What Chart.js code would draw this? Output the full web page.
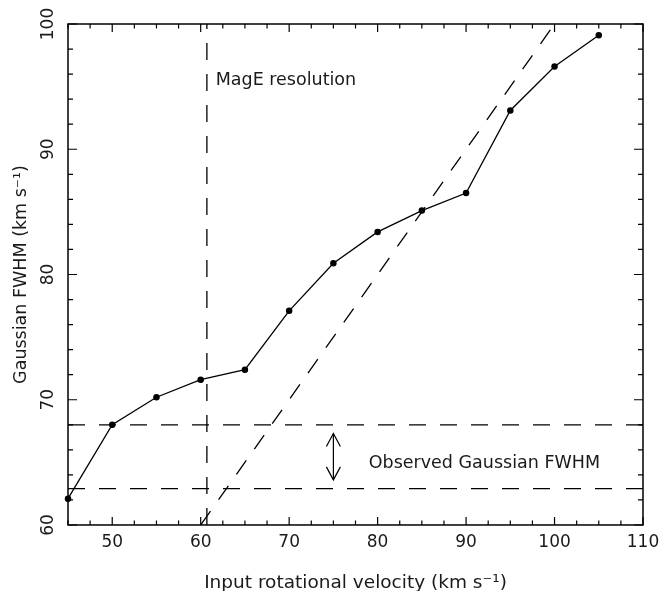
<!DOCTYPE html>
<html>
<head>
<meta charset="utf-8">
<script src="https://cdn.jsdelivr.net/npm/chart.js@4.4.0/dist/chart.umd.min.js"></script>
<style>
  body { margin: 0; background: #fff; }
  canvas { display: block; }
</style>
</head>
<body>
<canvas id="chart" width="662" height="591"></canvas>
<script>
// measured curve
const velocity = [45, 50, 55, 60, 65, 70, 75, 80, 85, 90, 95, 100, 105];
const fwhm = [62.1, 68.0, 70.2, 71.6, 72.4, 77.1, 80.9, 83.4, 85.1, 86.5, 93.1, 96.6, 99.1];

// reference lines
const oneToOneX = [60, 100];
const oneToOneY = [60, 100];
const resolutionX = [60.7, 60.7];
const resolutionY = [60, 100];
const observedX = [45, 110];
const observedUpper = [68, 68];
const observedLower = [62.9, 62.9];
const arrowX = [75, 75];
const arrowY = [63.6, 67.3];

// axes
const xTicks = [50, 60, 70, 80, 90, 100, 110];
const yTicks = [60, 70, 80, 90, 100];
const xMinorStep = 2.5;
const yMinorStep = 2;

const zip = (xs, ys) => xs.map((x, i) => ({ x: x, y: ys[i] }));
const FONT = "'DejaVu Sans', sans-serif";
const INK = '#1a1a1a';

const dashed = (xs, ys) => ({
    data: zip(xs, ys),
    borderColor: '#000',
    borderWidth: 1.3,
    borderDash: [17, 14],
    pointRadius: 0,
    showLine: true
});

const framePlugin = {
    id: 'frame',
    afterDatasetsDraw(chart) {
        const ctx = chart.ctx;
        const a = chart.chartArea;
        const xs = chart.scales.x, ys = chart.scales.y;
        ctx.save();
        ctx.strokeStyle = '#000';
        ctx.lineWidth = 1.5;
        ctx.strokeRect(a.left, a.top, a.right - a.left, a.bottom - a.top);

        // inward ticks on all four sides
        ctx.lineWidth = 1.2;
        ctx.beginPath();
        for (let v = xs.min; v <= xs.max + 1e-9; v += xMinorStep) {
            const px = xs.getPixelForValue(v);
            const len = v % 10 === 0 ? 8 : 4.5;
            ctx.moveTo(px, a.bottom); ctx.lineTo(px, a.bottom - len);
            ctx.moveTo(px, a.top); ctx.lineTo(px, a.top + len);
        }
        for (let v = ys.min; v <= ys.max + 1e-9; v += yMinorStep) {
            const py = ys.getPixelForValue(v);
            const len = v % 10 === 0 ? 9 : 5;
            ctx.moveTo(a.left, py); ctx.lineTo(a.left + len, py);
            ctx.moveTo(a.right, py); ctx.lineTo(a.right - len, py);
        }
        ctx.stroke();

        // rotated y tick labels
        ctx.fillStyle = INK;
        ctx.font = '17px ' + FONT;
        ctx.textAlign = 'center';
        ctx.textBaseline = 'middle';
        yTicks.forEach(v => {
            ctx.save();
            ctx.translate(a.left - 19, ys.getPixelForValue(v));
            ctx.rotate(-Math.PI / 2);
            ctx.fillText(String(v), 0, 0);
            ctx.restore();
        });

        // arrow heads on the observed-range marker
        ctx.lineWidth = 1.2;
        ctx.beginPath();
        const ax = xs.getPixelForValue(arrowX[0]);
        const top = ys.getPixelForValue(arrowY[1]);
        const bot = ys.getPixelForValue(arrowY[0]);
        ctx.moveTo(ax - 7, top + 13); ctx.lineTo(ax, top); ctx.lineTo(ax + 7, top + 13);
        ctx.moveTo(ax - 7, bot - 13); ctx.lineTo(ax, bot); ctx.lineTo(ax + 7, bot - 13);
        ctx.stroke();

        // annotations
        ctx.textAlign = 'left';
        ctx.font = '17.5px ' + FONT;
        ctx.fillText('MagE resolution', xs.getPixelForValue(61.7), ys.getPixelForValue(95.5));
        ctx.fillText('Observed Gaussian FWHM', xs.getPixelForValue(79), ys.getPixelForValue(64.95));
        ctx.restore();
    }
};

new Chart(document.getElementById('chart'), {
    type: 'scatter',
    data: {
        datasets: [
            {
                data: zip(velocity, fwhm),
                borderColor: '#000',
                backgroundColor: '#000',
                borderWidth: 1.3,
                pointRadius: 2.6,
                pointHoverRadius: 2.6,
                showLine: true,
                clip: false
            },
            dashed(oneToOneX, oneToOneY),
            dashed(resolutionX, resolutionY),
            dashed(observedX, observedUpper),
            dashed(observedX, observedLower),
            {
                data: zip(arrowX, arrowY),
                borderColor: '#000',
                borderWidth: 1.2,
                pointRadius: 0,
                showLine: true
            }
        ]
    },
    options: {
        responsive: false,
        animation: false,
        events: [],
        layout: { padding: { top: 24, right: 19, left: 0, bottom: 0 } },
        plugins: { legend: { display: false }, tooltip: { enabled: false } },
        scales: {
            x: {
                type: 'linear',
                min: 45,
                max: 110,
                afterBuildTicks: scale => { scale.ticks = xTicks.map(v => ({ value: v })); },
                // let the "110" label hang into the right margin
                afterFit: scale => { scale.paddingRight = 0; },
                grid: { display: false, drawTicks: false },
                border: { display: false },
                ticks: { color: INK, font: { family: FONT, size: 17 }, padding: 7.8, maxRotation: 0 },
                title: {
                    display: true,
                    text: 'Input rotational velocity (km s\u207B\u00B9)',
                    color: INK,
                    font: { family: FONT, size: 18.5, lineHeight: 0.85 },
                    padding: { top: 14.3, bottom: 0 }
                }
            },
            y: {
                type: 'linear',
                min: 60,
                max: 100,
                afterBuildTicks: scale => { scale.ticks = yTicks.map(v => ({ value: v })); },
                grid: { display: false, drawTicks: false },
                border: { display: false },
                ticks: { display: false },
                title: {
                    display: true,
                    text: 'Gaussian FWHM (km s\u207B\u00B9)',
                    color: INK,
                    font: { family: FONT, size: 17.5 },
                    padding: { top: 10.5, bottom: 36.5 }
                }
            }
        }
    },
    plugins: [framePlugin]
});
</script>
</body>
</html>
